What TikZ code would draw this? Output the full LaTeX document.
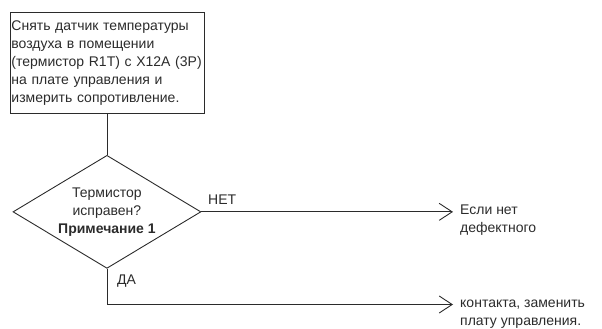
\documentclass[tikz,border=0pt]{standalone}
\usepackage{fontspec}
\setmainfont{Liberation Sans}
\usepackage{xcolor}
\definecolor{inkgray}{HTML}{2B2B2B}
\usetikzlibrary{positioning,shapes.geometric,arrows.meta}

\begin{document}
\begin{tikzpicture}[
  x=1pt, y=1pt,
  font=\fontsize{14}{18}\selectfont,
  stepbox/.style={draw=inkgray, line width=0.9pt, rectangle, anchor=north west,
                  text width=191pt, minimum width=194pt, minimum height=101pt,
                  inner xsep=1.5pt, inner ysep=6pt, align=left, text=inkgray},
  decision/.style={draw=inkgray, line width=0.9pt, diamond, aspect=1.66,
                   minimum width=188pt, minimum height=113pt, inner sep=0pt,
                   align=center, text=inkgray},
  flow/.style={draw=inkgray, line width=0.9pt},
  arr/.style={flow, -{Straight Barb[length=13pt,width=17pt,line width=0.9pt]}},
  lbl/.style={inner sep=0pt, anchor=base west, align=left, text=inkgray}
]
  \useasboundingbox (0,0) rectangle (602,329);

  \node[stepbox] (check) at (9.5,317) {Снять датчик температуры\\
    воздуха в помещении\\
    (термистор R1T) с X12A (3P)\\
    на плате управления и\\
    измерить сопротивление.};
  \node[decision, below=41pt of check] (ok) {Термистор\\исправен?\\\textbf{Примечание 1}};

  \coordinate (noend) at (ok.east -| 453,0);
  \coordinate (bend) at (ok.south |- 0,24.5);
  \coordinate (yesend) at (453,24.5);

  \node[lbl] (nolbl) at (208,124) {НЕТ};
  \node[lbl] (yeslbl) at (117,44) {ДА};
  % base of a two-line node sits on its last line
  \node[lbl] (notext) at (460,96) {Если нет\\дефектного};
  \node[lbl] (yestext) at (460,3) {контакта, заменить\\плату управления.};

  \draw[flow] (check.south) -- (ok.north);
  \draw[arr] (ok.east) -- (noend);
  \draw[arr] (ok.south) -- (bend) -- (yesend);
\end{tikzpicture}
\end{document}
